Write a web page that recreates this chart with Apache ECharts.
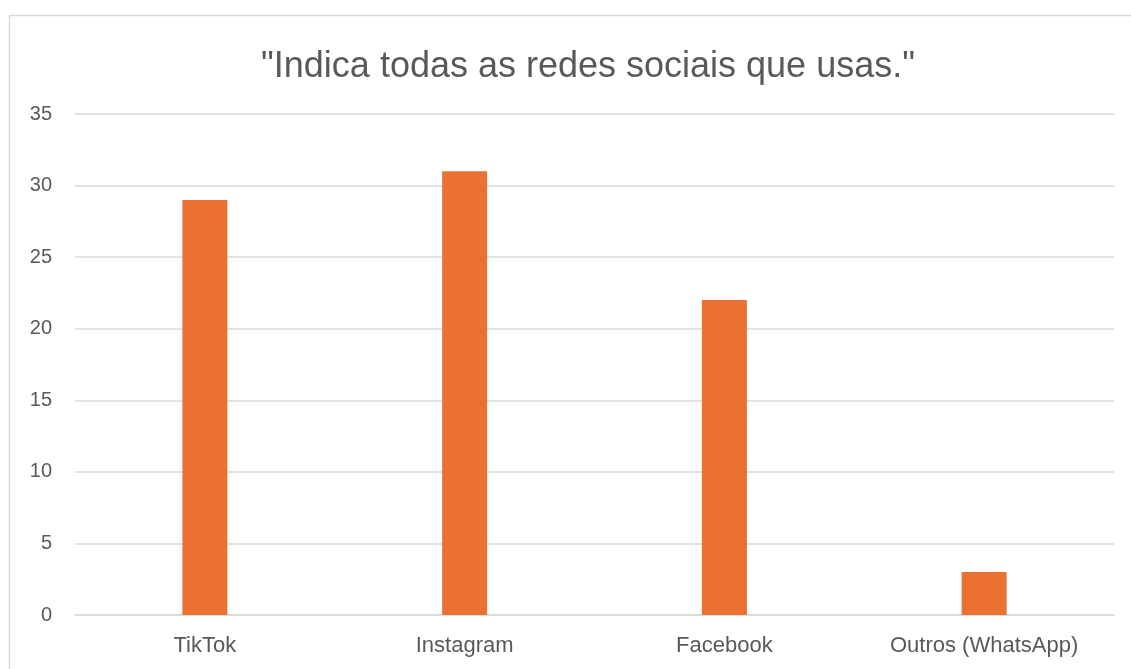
<!DOCTYPE html>
<html>
<head>
<meta charset="utf-8">
<script src="https://cdn.jsdelivr.net/npm/echarts@6/dist/echarts.min.js"></script>
<style>
    html, body { margin: 0; padding: 0; background: #ffffff; }
    #main { width: 1131px; height: 669px; }
</style>
</head>
<body>
<div id="main"></div>
<script>
    // dados do gráfico
    var categories = ['TikTok', 'Instagram', 'Facebook', 'Outros (WhatsApp)'];
    var values = [29, 31, 22, 3];
    var titleText = '"Indica todas as redes sociais que usas."';

    var chart = echarts.init(document.getElementById('main'));
    chart.setOption({
        animation: false,
        textStyle: { fontFamily: 'Liberation Sans, Arial, sans-serif' },
        title: {
            text: titleText,
            left: 583,
            top: 44,
            textAlign: 'center',
            textStyle: { fontSize: 36, fontWeight: 'normal', color: '#595959', fontFamily: 'Liberation Sans, Arial, sans-serif' }
        },
        // moldura cinzenta à volta do gráfico
        graphic: [{
            type: 'rect',
            shape: { x: 9.5, y: 15.5, width: 1300, height: 800 },
            style: { fill: 'none', stroke: '#d9d9d9', lineWidth: 1.5 },
            silent: true
        }],
        grid: { left: 75, right: 17, top: 114, bottom: 54, containLabel: false },
        xAxis: {
            type: 'category',
            data: categories,
            axisLine: { show: true, lineStyle: { color: '#d9d9d9', width: 1.5 } },
            axisTick: { show: false },
            axisLabel: { color: '#595959', fontSize: 22, margin: 20 }
        },
        yAxis: {
            type: 'value',
            min: 0,
            max: 35,
            interval: 5,
            axisLine: { show: false },
            axisTick: { show: false },
            axisLabel: { color: '#595959', fontSize: 20, margin: 23 },
            splitLine: { lineStyle: { color: '#d9d9d9', width: 1.5 } }
        },
        series: [{
            type: 'bar',
            data: values,
            barWidth: 45,
            itemStyle: { color: '#eb7133' }
        }]
    });
</script>
</body>
</html>
